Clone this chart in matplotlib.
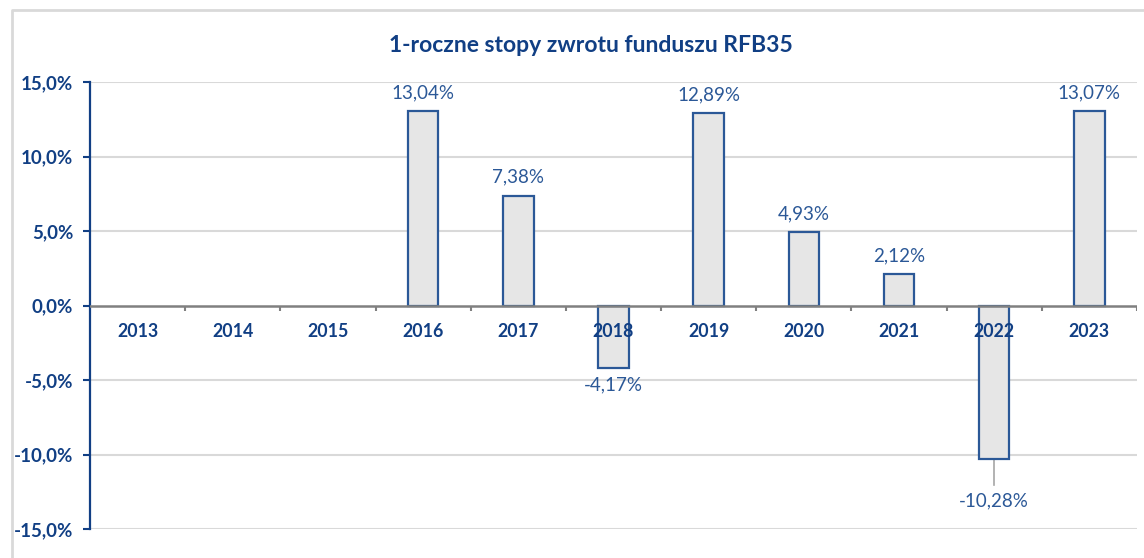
import numpy as np
import matplotlib.pyplot as plt
from matplotlib.lines import Line2D

plt.rcParams['font.family'] = ['Lato', 'DejaVu Sans']

# dane: roczne stopy zwrotu (%)
lata = ['2013', '2014', '2015', '2016', '2017', '2018', '2019', '2020', '2021', '2022', '2023']
stopy = [np.nan, np.nan, np.nan, 13.04, 7.38, -4.17, 12.89, 4.93, 2.12, -10.28, 13.07]
yticks = [-15, -10, -5, 0, 5, 10, 15]

granat = '#113F84'
niebieski = '#2B5897'
szary = '#D9D9D9'

W, H = 1144, 558
fig = plt.figure(figsize=(W / 100, H / 100), dpi=100)

# ramka wykresu (lewa i gorna krawedz)
fig.lines.append(Line2D([12 / W, 12 / W, 1.0], [0.0, 1 - 10 / H, 1 - 10 / H],
                        transform=fig.transFigure, color=szary, lw=2))

ax = fig.add_axes([90 / W, 1 - 529 / H, (1137 - 90) / W, (529 - 82) / H])

x = np.arange(len(lata))
ax.bar(x, stopy, width=0.32, color='#E6E6E6', edgecolor=niebieski, lw=1.6, zorder=3)

ax.set_xlim(-0.5, len(lata) - 0.5)
ax.set_ylim(-15, 15)
ax.set_yticks(yticks)
ax.set_yticklabels([f"{v:.1f}".replace('.', ',') + '%' for v in yticks],
                   fontsize=13.5, fontweight='bold', color=granat)
ax.tick_params(axis='y', direction='out', length=5, width=1.5, color=granat, pad=7)
ax.set_xticks([])
for v in yticks:
    if v != 0:
        ax.axhline(v, color=szary, lw=1.5, zorder=1)

for s in ['top', 'right', 'bottom']:
    ax.spines[s].set_visible(False)
ax.spines['left'].set_color(granat)
ax.spines['left'].set_linewidth(1.6)

# linia zera i znaczniki kategorii
ax.axhline(0, color='#808080', lw=1.8, zorder=4)
granice = np.arange(len(lata) + 1) - 0.5
ax.vlines(granice[1:], -0.4, 0, color='#808080', lw=1.5, zorder=4)

# etykiety lat
for xi, rok in zip(x, lata):
    ax.text(xi, -1.75, rok, ha='center', va='center', fontsize=12.8,
            fontweight='bold', color=granat, zorder=5)

# etykiety wartosci
for xi, v in zip(x, stopy):
    if np.isnan(v):
        continue
    txt = f"{v:.2f}".replace('.', ',') + '%'
    if v >= 0:
        ax.annotate(txt, (xi, v), xytext=(0, 7), textcoords='offset points',
                    ha='center', va='bottom', fontsize=13.5, color=niebieski)
    elif v > -8:
        ax.annotate(txt, (xi, v), xytext=(0, -6), textcoords='offset points',
                    ha='center', va='top', fontsize=13.5, color=niebieski)
    else:
        ax.plot([xi, xi], [v, v - 1.75], color='#A6A6A6', lw=1.2, zorder=2)
        ax.annotate(txt, (xi, v), xytext=(0, -24), textcoords='offset points',
                    ha='center', va='top', fontsize=13.5, color=niebieski)

fig.text(591 / W, 1 - 45 / H, '1-roczne stopy zwrotu funduszu RFB35', ha='center', va='center',
         fontsize=16.5, fontweight='bold', color=granat)

fig.savefig('out.png', dpi=100)
